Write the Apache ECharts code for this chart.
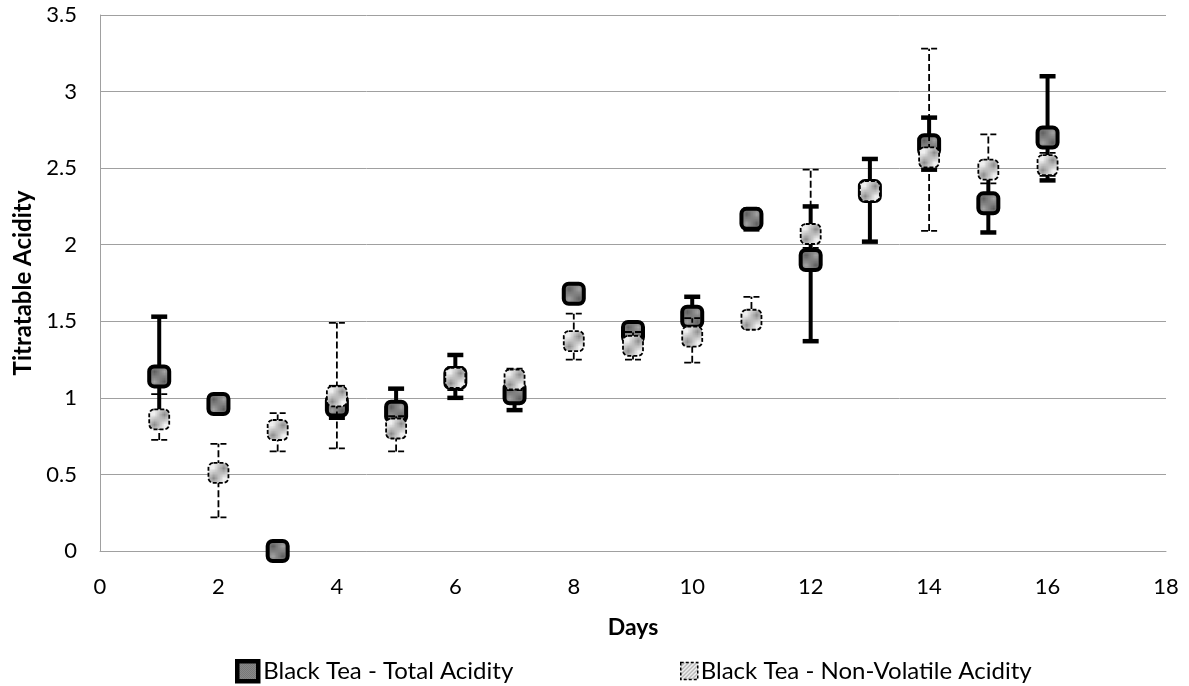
<!DOCTYPE html>
<html>
<head>
<meta charset="utf-8">
<script src="https://cdn.jsdelivr.net/npm/echarts@6/dist/echarts.min.js"></script>
<style>
  html, body { margin: 0; padding: 0; background: #fff; }
  #chart { width: 1189px; height: 686px; }
</style>
</head>
<body>
<div id="chart"></div>
<script>
// values
const days = [1, 2, 3, 4, 5, 6, 7, 8, 9, 10, 11, 12, 13, 14, 15, 16]
const totalAcid = [1.14, 0.96, 0.0, 0.95, 0.91, 1.13, 1.03, 1.68, 1.43, 1.53, 2.17, 1.90, 2.35, 2.65, 2.27, 2.70]
const totalLow = [0.86, 0.96, 0.0, 0.87, 0.75, 1.00, 0.92, 1.68, 1.38, 1.40, 2.10, 1.37, 2.02, 2.49, 2.08, 2.42]
const totalHigh = [1.53, 0.96, 0.0, 1.07, 1.06, 1.28, 1.15, 1.68, 1.48, 1.66, 2.23, 2.25, 2.56, 2.83, 2.46, 3.10]
const nvAcid = [0.86, 0.51, 0.79, 1.01, 0.80, 1.13, 1.12, 1.37, 1.34, 1.40, 1.51, 2.07, 2.35, 2.57, 2.49, 2.52]
const nvLow = [0.725, 0.22, 0.65, 0.67, 0.65, 1.05, 1.05, 1.25, 1.25, 1.23, 1.45, 1.98, 2.30, 2.09, 2.40, 2.45]
const nvHigh = [1.025, 0.70, 0.90, 1.49, 0.88, 1.20, 1.19, 1.55, 1.43, 1.52, 1.66, 2.49, 2.40, 3.28, 2.72, 2.60]
const totalName = 'Black Tea - Total Acidity'
const nvName = 'Black Tea - Non-Volatile Acidity'

const FONT = 'Lato, "Open Sans", sans-serif'

// small canvas fills imitating the office patterns
function checker() {
    const c = document.createElement('canvas')
    c.width = 2; c.height = 2
    const g = c.getContext('2d')
    g.fillStyle = '#a4a4a4'; g.fillRect(0, 0, 2, 2)
    g.fillStyle = '#5e5e5e'; g.fillRect(0, 0, 1, 1); g.fillRect(1, 1, 1, 1)
    return { image: c, repeat: 'repeat' }
}
function hatch() {
    const c = document.createElement('canvas')
    c.width = 4; c.height = 4
    const g = c.getContext('2d')
    g.fillStyle = '#eeeeee'; g.fillRect(0, 0, 4, 4)
    g.fillStyle = '#8c8c8c'
    for (let i = 0; i < 4; i++) g.fillRect(3 - i, i, 1, 1)
    return { image: c, repeat: 'repeat' }
}

function errorBars(solid) {
    return function (params, api) {
        const x = api.value(0)
        const lo = api.coord([x, api.value(1)])
        const hi = api.coord([x, api.value(2)])
        const w = 8
        const style = solid
            ? { stroke: '#000', lineWidth: 4 }
            : { stroke: '#000', lineWidth: 1.8, lineDash: [7, 3] }
        const capStyle = solid ? { stroke: '#000', lineWidth: 4.5 } : { stroke: '#000', lineWidth: 1.8, lineDash: [7, 3] }
        return {
            type: 'group',
            children: [
                { type: 'line', shape: { x1: lo[0], y1: lo[1], x2: hi[0], y2: hi[1] }, style: style },
                { type: 'line', shape: { x1: lo[0] - w, y1: lo[1], x2: lo[0] + w, y2: lo[1] }, style: capStyle },
                { type: 'line', shape: { x1: hi[0] - w, y1: hi[1], x2: hi[0] + w, y2: hi[1] }, style: capStyle }
            ]
        }
    }
}

const chart = echarts.init(document.getElementById('chart'), null, { renderer: 'canvas' })
const totalFill = checker()
const nvFill = hatch()

const option = {
    animation: false,
    textStyle: { fontFamily: FONT },
    grid: { left: 100, right: 23, top: 15, bottom: 135, outerBoundsMode: 'none', containLabel: false },
    legend: [
        {
            left: 230, top: 654, itemWidth: 21, itemHeight: 20,
            icon: 'rect', data: [totalName],
            itemStyle: { borderColor: '#000', borderWidth: 4.5 },
            textStyle: { fontFamily: FONT, fontSize: 24, color: '#000' }
        },
        {
            left: 675, top: 654, itemWidth: 17, itemHeight: 17,
            icon: 'rect', data: [nvName],
            itemStyle: { borderColor: '#000', borderWidth: 1.5, borderType: [3, 2] },
            textStyle: { fontFamily: FONT, fontSize: 24, color: '#000', padding: [0, 0, 0, -2] }
        }
    ],
    xAxis: {
        type: 'value', min: 0, max: 18, interval: 2,
        name: 'Days', nameLocation: 'middle', nameGap: 65,
        nameTextStyle: { fontFamily: FONT, fontSize: 23, fontWeight: 'bold', color: '#000' },
        axisLine: { show: true, lineStyle: { color: '#a0a0a0', width: 1 } },
        axisTick: { show: false },
        axisLabel: { fontFamily: FONT, fontSize: 22, color: '#000', margin: 25 },
        splitLine: { show: false }
    },
    yAxis: {
        type: 'value', min: 0, max: 3.5, interval: 0.5,
        name: 'Titratable Acidity', nameLocation: 'middle', nameGap: 65,
        nameTextStyle: { fontFamily: FONT, fontSize: 24, fontWeight: 'bold', color: '#000' },
        axisLine: { show: true, lineStyle: { color: '#a0a0a0', width: 1 } },
        axisTick: { show: false },
        axisLabel: { fontFamily: FONT, fontSize: 22, color: '#000', margin: 23 },
        splitLine: { lineStyle: { color: '#a0a0a0', width: 1 } }
    },
    series: [
        {
            type: 'custom', name: 'totalErr', silent: true, z: 2,
            renderItem: errorBars(true),
            encode: { x: 0, y: [1, 2] },
            data: days.map((d, i) => [d, totalLow[i], totalHigh[i]])
        },
        {
            type: 'scatter', name: totalName, z: 3,
            symbol: 'roundRect', symbolSize: 20,
            itemStyle: { color: totalFill, borderColor: '#000', borderWidth: 4, opacity: 1 },
            data: days.map((d, i) => [d, totalAcid[i]])
        },
        {
            type: 'custom', name: 'nvErr', silent: true, z: 4,
            renderItem: errorBars(false),
            encode: { x: 0, y: [1, 2] },
            data: days.map((d, i) => [d, nvLow[i], nvHigh[i]])
        },
        {
            type: 'scatter', name: nvName, z: 5,
            symbol: 'roundRect', symbolSize: 20,
            itemStyle: { color: nvFill, borderColor: '#000', borderWidth: 1.8, borderType: [4, 2], opacity: 1 },
            data: days.map((d, i) => [d, nvAcid[i]])
        }
    ]
}
chart.setOption(option)
</script>
</body>
</html>
